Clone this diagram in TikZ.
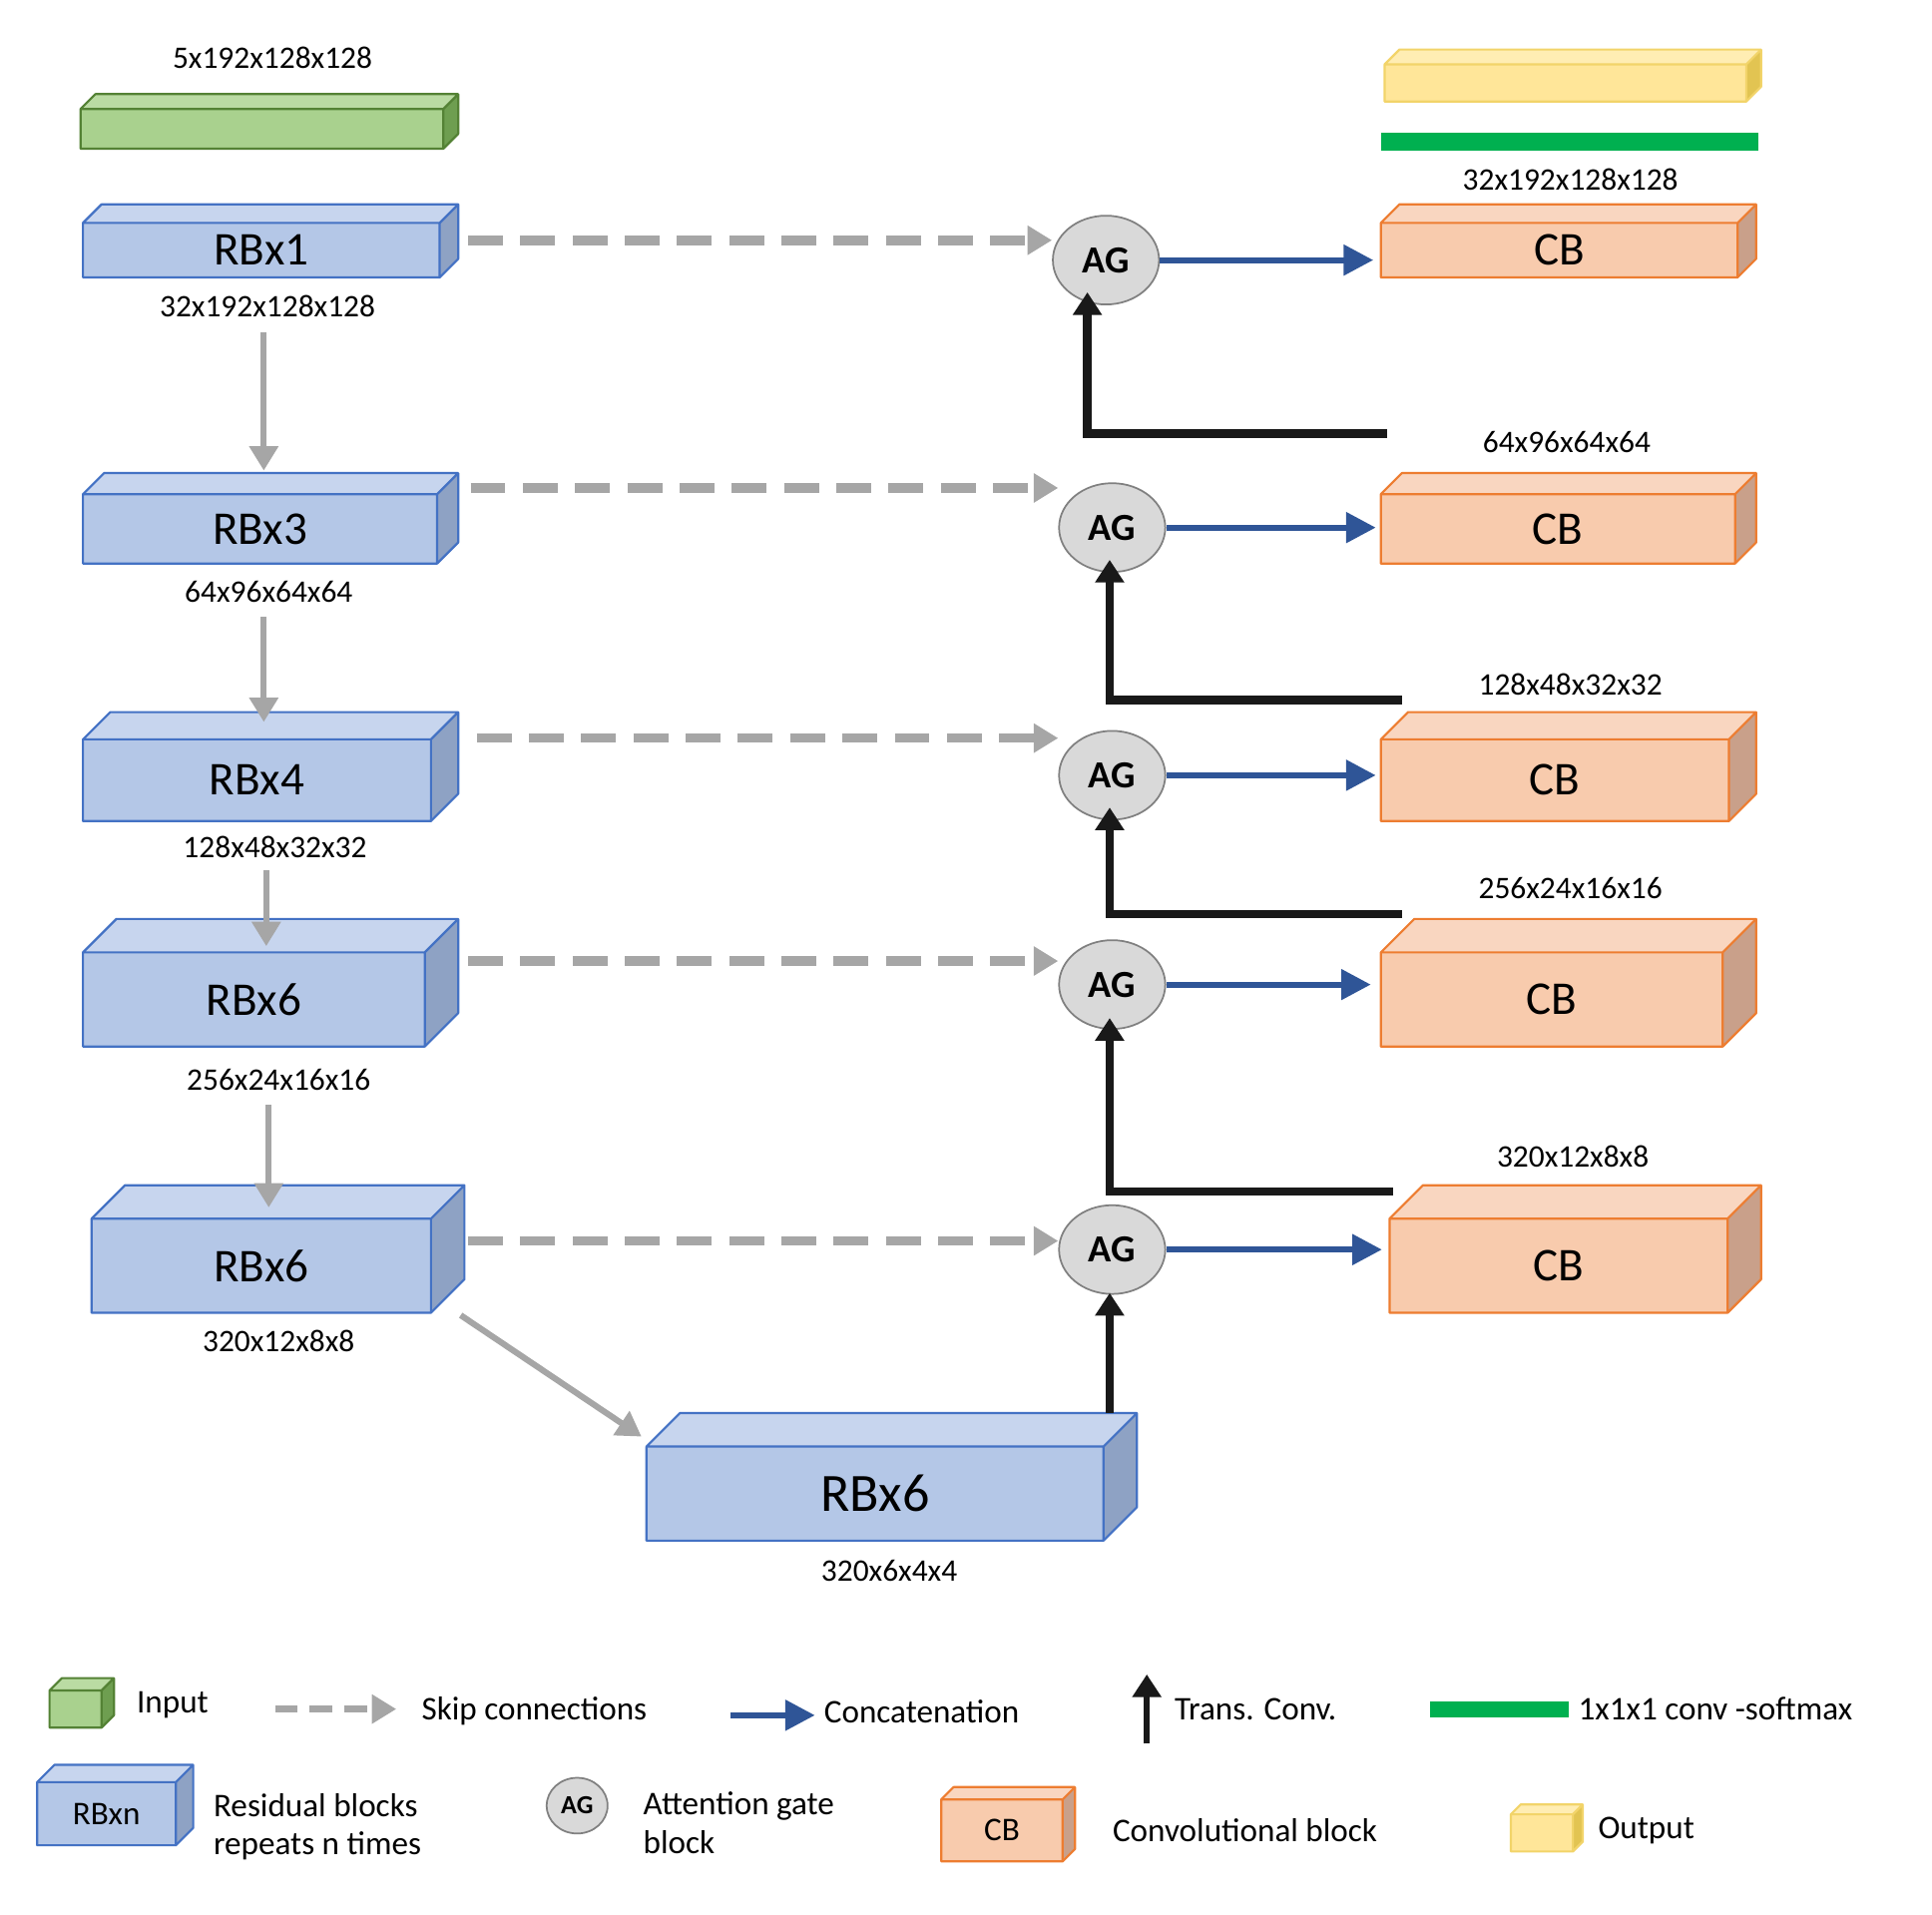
\documentclass[tikz,border=0pt]{standalone}
\usepackage{fontspec}
\setmainfont{Carlito}
\usetikzlibrary{arrows.meta,fit,calc,shapes.geometric}
\definecolor{bluef}{HTML}{B4C7E7}\definecolor{bluet}{HTML}{C7D5EE}\definecolor{blues}{HTML}{8EA2C4}\definecolor{bluel}{HTML}{4472C4}
\definecolor{orf}{HTML}{F8CBAD}\definecolor{ort}{HTML}{F9D6C0}\definecolor{ors}{HTML}{C9A08A}\definecolor{orl}{HTML}{ED7D31}
\definecolor{grf}{HTML}{A9D18E}\definecolor{grt}{HTML}{BADBA3}\definecolor{grs}{HTML}{6E9E50}\definecolor{grl}{HTML}{548235}
\definecolor{yef}{HTML}{FFE699}\definecolor{yet}{HTML}{FFEDB3}\definecolor{yes}{HTML}{E2C452}\definecolor{yel}{HTML}{F2D46A}
\definecolor{skipc}{HTML}{A6A6A6}\definecolor{catc}{HTML}{2F5597}\definecolor{gbar}{HTML}{00B050}
\newcommand\mybox[7]{%
 \fill[#6s] (#3-#5,#2+#5) -- (#3,#2) -- (#3,#4-#5) -- (#3-#5,#4) -- cycle;
 \fill[#6t] (#1,#2+#5) -- (#1+#5,#2) -- (#3,#2) -- (#3-#5,#2+#5) -- cycle;
 \fill[#6f] (#1,#2+#5) rectangle (#3-#5,#4);
 \draw[#6l,line width=2.5pt,line join=round] (#1,#4) -- (#1,#2+#5) -- (#1+#5,#2) -- (#3,#2) -- (#3,#4-#5) -- (#3-#5,#4) -- cycle
   (#1,#2+#5) -- (#3-#5,#2+#5) -- (#3,#2) (#3-#5,#2+#5) -- (#3-#5,#4);
 \path (#1,#2+#5) coordinate (#7-a) (#3-#5,#4) coordinate (#7-b);
 \node[fit=(#7-a)(#7-b),inner sep=0] (#7) {};}
\tikzset{
 big/.style={font=\fontsize{54}{60}\selectfont},
 dim/.style={font=\fontsize{36}{40}\selectfont},
 leg/.style={font=\fontsize{38}{44}\selectfont,anchor=west,align=left},
 ag/.style={ellipse,draw=gray,line width=2pt,fill=black!15,minimum width=122,minimum height=102,font=\bfseries\fontsize{44}{48}\selectfont},
 skip/.style={draw=skipc,line width=11pt,dash pattern=on 40pt off 20pt,-{Triangle[width=32pt,length=28pt]}},
 down/.style={draw=skipc,line width=7pt,-{Triangle[width=32pt,length=28pt]}},
 cat/.style={draw=catc,line width=7pt,-{Triangle[width=34pt,length=34pt]}},
 tc/.style={draw=black!90,line width=10pt,-{Triangle[width=32pt,length=26pt]}},
}
\begin{document}
\begin{tikzpicture}[x=0.05cm,y=-0.05cm]
\useasboundingbox (0,0) rectangle (1560,1546);
% left column
\mybox{65}{76}{370}{120}{12}{gr}{inp}
\mybox{67}{165}{370}{224}{15}{blue}{rb1}
\mybox{67}{382}{370}{455}{17}{blue}{rb2}
\mybox{67}{575}{370}{663}{22}{blue}{rb3}
\mybox{67}{742}{370}{845}{27}{blue}{rb4}
\mybox{74}{957}{375}{1060}{27}{blue}{rb5}
\mybox{522}{1141}{918}{1244}{27}{blue}{rb6}
\node[big] at (rb1) {RBx1};\node[big] at (rb2) {RBx3};\node[big] at (rb3) {RBx4};
\node[big] at (rb4) {RBx6};\node[big] at (rb5) {RBx6};
\node[font=\fontsize{62}{66}\selectfont] at (rb6) {RBx6};
% right column
\mybox{1118}{40}{1422}{82}{12}{ye}{outp}
\fill[gbar] (1115,107) rectangle (1420,122);
\mybox{1115}{165}{1418}{224}{15}{or}{cb1}
\mybox{1115}{382}{1418}{455}{17}{or}{cb2}
\mybox{1115}{575}{1418}{663}{22}{or}{cb3}
\mybox{1115}{742}{1418}{845}{27}{or}{cb4}
\mybox{1122}{957}{1422}{1060}{27}{or}{cb5}
\foreach \c in {cb1,cb2,cb3,cb4,cb5}{\node[big] at (\c) {CB};}
% AG
\node[ag] (ag1) at (893,210) {AG};
\node[ag] (ag2) at (898,426) {AG};
\node[ag] (ag3) at (898,626) {AG};
\node[ag] (ag4) at (898,795) {AG};
\node[ag] (ag5) at (898,1009) {AG};
% dims
\node[dim] at (220,47) {5x192x128x128};
\node[dim] at (216,247) {32x192x128x128};
\node[dim] at (217,478) {64x96x64x64};
\node[dim] at (222,684) {128x48x32x32};
\node[dim] at (225,872) {256x24x16x16};
\node[dim] at (225,1083) {320x12x8x8};
\node[dim] at (718,1268) {320x6x4x4};
\node[dim] at (1268,145) {32x192x128x128};
\node[dim] at (1265,357) {64x96x64x64};
\node[dim] at (1268,553) {128x48x32x32};
\node[dim] at (1268,717) {256x24x16x16};
\node[dim] at (1270,934) {320x12x8x8};
% skip
\coordinate (s1) at (378,194);\coordinate (s2) at (380,394);\coordinate (s3) at (385,596);\coordinate (s4) at (378,776);\coordinate (s5) at (378,1002);
\draw[skip] (s1) -- (ag1.west |- s1);
\draw[skip] (s2) -- (ag2.west |- s2);
\draw[skip] (s3) -- (ag3.west |- s3);
\draw[skip] (s4) -- (ag4.west |- s4);
\draw[skip] (s5) -- (ag5.west |- s5);
% down
\coordinate (d0) at (213,268);\coordinate (d2) at (213,498);\coordinate (d3) at (215,703);\coordinate (d4) at (217,892);
\draw[down] (d0) -- (213,380);
\draw[down] (d2) -- (213,583);
\draw[down] (d3) -- (215,764);
\draw[down] (d4) -- (217,975);
\coordinate (d1) at (372,1062);
\draw[down] (d1) -- (518,1160);
% concat
\draw[cat] (ag1.east) -- ($(cb1.west |- ag1.east)+(-6,0)$);
\draw[cat] (ag2.east) -- ($(cb2.west |- ag2.east)+(-4,0)$);
\draw[cat] (ag3.east) -- ($(cb3.west |- ag3.east)+(-4,0)$);
\draw[cat] (ag4.east) -- ($(cb4.west |- ag4.east)+(-8,0)$);
\draw[cat] (ag5.east) -- ($(cb5.west |- ag5.east)+(-6,0)$);
% trans conv
\coordinate (t1) at (1120,350);\coordinate (t2) at (1132,565);\coordinate (t3) at (1132,738);\coordinate (t4) at (1125,962);\coordinate (t5) at (896,1141);
\draw[tc] (t1) -- (878,350) -- (878,236);
\draw[tc] (t2) -- (896,565) -- (896,452);
\draw[tc] (t3) -- (896,738) -- (896,652);
\draw[tc] (t4) -- (896,962) -- (896,822);
\draw[tc] (t5) -- (896,1044);
% legend
\mybox{40}{1355}{92}{1395}{10}{gr}{lg1}
\node[leg] at (108,1377) {Input};
\coordinate (l1) at (222,1380);
\draw[skip,line width=8pt,dash pattern=on 26pt off 14pt] (l1) -- (320,1380);
\node[leg] at (338,1382) {Skip connections};
\coordinate (l2) at (590,1385);
\draw[cat] (l2) -- (658,1385);
\node[leg] at (663,1382) {Concatenation};
\coordinate (l3) at (926,1408);
\draw[tc,line width=7pt] (l3) -- (926,1352);
\node[leg] at (946,1380) {Trans. Conv.};
\fill[gbar] (1155,1374) rectangle (1267,1387);
\node[leg] at (1272,1380) {1x1x1 conv -softmax};
\mybox{30}{1425}{156}{1490}{14}{blue}{lg2}
\node[font=\fontsize{38}{40}\selectfont] at (lg2) {RBxn};
\node[leg] at (170,1475) {Residual blocks\\repeats n times};
\node[ag,minimum width=70,minimum height=64,font=\bfseries\fontsize{30}{32}\selectfont] (lag) at (466,1458) {AG};
\node[leg] at (517,1472) {Attention gate\\block};
\mybox{760}{1443}{868}{1503}{10}{or}{lg3}
\node[font=\fontsize{38}{40}\selectfont] at (lg3) {CB};
\node[leg] at (896,1478) {Convolutional block};
\mybox{1220}{1457}{1278}{1495}{8}{ye}{lg4}
\node[leg] at (1288,1478) {Output};
\end{tikzpicture}
\end{document}
